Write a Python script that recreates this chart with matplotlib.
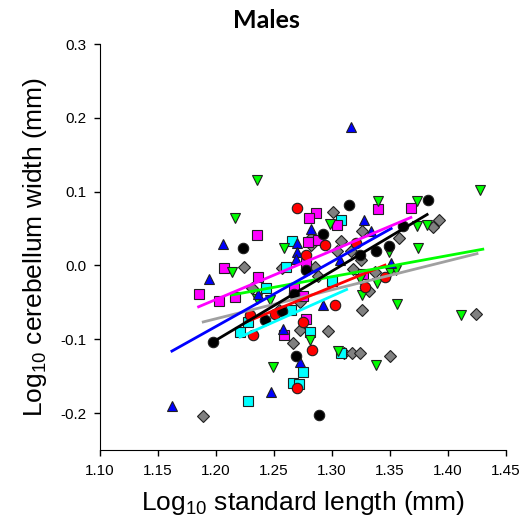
import matplotlib
matplotlib.use("Agg")
import matplotlib.pyplot as plt

plt.rcParams["font.family"] = ["Liberation Sans", "DejaVu Sans"]
plt.rcParams["mathtext.fontset"] = "custom"
plt.rcParams["mathtext.rm"] = "Liberation Sans"

# black circles
black_x = [1.223, 1.315, 1.383, 1.361, 1.292, 1.349, 1.338, 1.324, 1.2776, 1.242,
           1.257, 1.197, 1.2686, 1.289, 1.267]
black_y = [0.024, 0.082, 0.089, 0.053, 0.043, 0.026, 0.020, 0.014, -0.0064, -0.074,
           -0.062, -0.104, -0.122, -0.203, -0.038]

# red circles
red_x = [1.2695, 1.294, 1.321, 1.2776, 1.3457, 1.3284, 1.3026, 1.275, 1.229, 1.232,
         1.251, 1.2825, 1.270]
red_y = [0.078, 0.028, 0.030, 0.014, -0.0155, -0.029, -0.053, -0.0765, -0.0675, -0.0946,
         -0.066, -0.114, -0.166]

# blue triangles
blue_x = [1.316, 1.206, 1.2695, 1.328, 1.282, 1.334, 1.2695, 1.269, 1.307, 1.194,
          1.2365, 1.2925, 1.258, 1.272, 1.247, 1.162, 1.351]
blue_y = [0.188, 0.029, 0.030, 0.061, 0.049, 0.047, 0.018, 0.0085, 0.008, -0.019,
          -0.038, -0.054, -0.0855, -0.131, -0.172, -0.190, 0.003]

# green inverted triangles
green_x = [1.235, 1.216, 1.259, 1.340, 1.373, 1.298, 1.373, 1.382, 1.374, 1.349,
           1.2135, 1.2356, 1.2465, 1.324, 1.339, 1.350, 1.355, 1.3256, 1.356, 1.411,
           1.428, 1.2488, 1.281, 1.305, 1.3376]
green_y = [0.116, 0.064, 0.024, 0.087, 0.087, 0.056, 0.053, 0.055, 0.023, 0.018,
           -0.0095, -0.046, -0.047, -0.018, -0.024, -0.009, -0.006, -0.040, -0.0516, -0.0675,
           0.102, -0.1375, -0.101, -0.116, -0.135]

# magenta squares
magenta_x = [1.235, 1.340, 1.368, 1.286, 1.280, 1.304, 1.288, 1.279, 1.278, 1.207,
             1.236, 1.185, 1.203, 1.216, 1.267, 1.275, 1.2776, 1.259, 1.327]
magenta_y = [0.041, 0.076, 0.078, 0.071, 0.064, 0.055, 0.035, 0.032, 0.003, -0.003,
             -0.0155, -0.038, -0.048, -0.0426, -0.031, -0.042, -0.072, -0.0946, -0.011]

# cyan squares
cyan_x = [1.2655, 1.308, 1.260, 1.243, 1.2997, 1.265, 1.2207, 1.228, 1.281, 1.275,
          1.2667, 1.2718, 1.228, 1.308]
cyan_y = [0.033, 0.061, -0.002, -0.030, -0.021, -0.061, -0.090, -0.0765, -0.090, -0.144,
          -0.159, -0.161, -0.184, -0.119]

# gray diamonds
gray_x = [1.301, 1.326, 1.392, 1.387, 1.282, 1.282, 1.308, 1.358, 1.316, 1.304,
          1.325, 1.2566, 1.285, 1.224, 1.288, 1.318, 1.337, 1.2307, 1.254, 1.272,
          1.332, 1.3256, 1.272, 1.2968, 1.266, 1.3106, 1.317, 1.324, 1.350, 1.189,
          1.424]
gray_y = [0.073, 0.047, 0.061, 0.052, 0.037, 0.028, 0.033, 0.037, 0.019, 0.020,
          0.007, -0.003, -0.002, -0.002, -0.0145, -0.005, -0.009, -0.031, -0.061, -0.049,
          -0.035, -0.061, -0.088, -0.089, -0.105, -0.118, -0.1186, -0.119, -0.122, -0.204,
          -0.066]

# regression line end points
fit_gray = ([1.189, 1.425], [-0.0765, 0.016])
fit_cyan = ([1.2207, 1.3126], [-0.097, -0.0326])
fit_red = ([1.226, 1.3457], [-0.0765, 0.0004])
fit_green = ([1.2135, 1.430], [-0.040, 0.022])
fit_black = ([1.197, 1.382], [-0.104, 0.069])
fit_blue = ([1.162, 1.351], [-0.116, 0.050])
fit_magenta = ([1.185, 1.368], [-0.056, 0.065])

fig = plt.figure(figsize=(5.26, 5.32), dpi=100)
ax = fig.add_axes([100 / 526, 82 / 532, 406 / 526, 406 / 532])

edge = dict(markeredgecolor="#202020", markeredgewidth=0.8, linestyle="none")
ax.plot(gray_x, gray_y, "D", color="#808080", markersize=6.2, **edge)
ax.plot(cyan_x, cyan_y, "s", color="#00ffff", markersize=7.0, **edge)
ax.plot(magenta_x, magenta_y, "s", color="#ff00ff", markersize=7.0, **edge)
ax.plot(green_x, green_y, "v", color="#00ff00", markersize=7.5, **edge)
ax.plot(blue_x, blue_y, "^", color="#0000ff", markersize=7.5, **edge)
ax.plot(red_x, red_y, "o", color="#ff0000", markersize=7.5, **edge)
ax.plot(black_x, black_y, "o", color="black", markersize=7.5, **edge)

lw = 2.0
ax.plot(*fit_gray, color="#a0a0a0", lw=lw)
ax.plot(*fit_cyan, color="#00ffff", lw=lw)
ax.plot(*fit_red, color="#ff0000", lw=lw)
ax.plot(*fit_green, color="#00ff00", lw=lw)
ax.plot(*fit_black, color="black", lw=lw)
ax.plot(*fit_blue, color="#0000ff", lw=lw)
ax.plot(*fit_magenta, color="#ff00ff", lw=lw)

ax.set_xlim(1.10, 1.45)
ax.set_ylim(-0.25, 0.30)
ax.set_xticks([1.10, 1.15, 1.20, 1.25, 1.30, 1.35, 1.40, 1.45])
ax.set_xticklabels(["1.10", "1.15", "1.20", "1.25", "1.30", "1.35", "1.40", "1.45"])
ax.set_yticks([-0.2, -0.1, 0.0, 0.1, 0.2, 0.3])
ax.set_yticklabels(["-0.2", "-0.1", "0.0", "0.1", "0.2", "0.3"])
ax.tick_params(direction="out", length=4, width=1, labelsize=11, pad=6)
ax.spines["top"].set_visible(False)
ax.spines["right"].set_visible(False)

ax.set_xlabel(r"Log$_{\mathrm{10}}$ standard length (mm)", fontsize=19, labelpad=8)
ax.set_ylabel(r"Log$_{\mathrm{10}}$ cerebellum width (mm)", fontsize=19, labelpad=8)
fig.text(266 / 526, 1 - 20 / 532, "Males", ha="center", va="center",
         fontsize=18, fontweight="bold", family=["Lato", "DejaVu Sans"])

fig.savefig("out.png", dpi=100)
